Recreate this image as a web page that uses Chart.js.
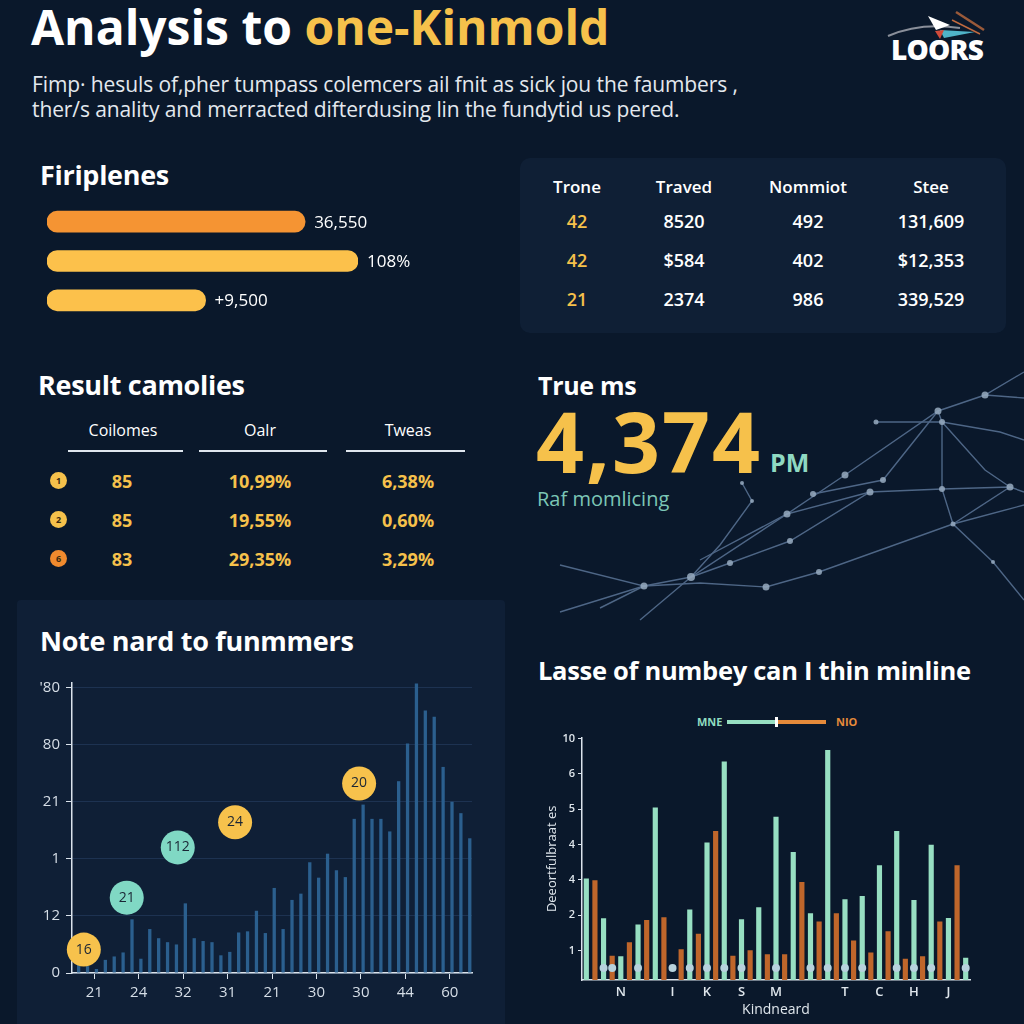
<!DOCTYPE html>
<html lang="en">
<head>
<meta charset="utf-8">
<title>Analysis to one-Kinmold</title>
<script src="https://cdn.jsdelivr.net/npm/chart.js@4.4.1/dist/chart.umd.min.js"></script>
<style>
    html, body { margin: 0; padding: 0; }
    body {
        position: relative;
        width: 1024px;
        height: 1024px;
        overflow: hidden;
        background: #0a182b;
        font-family: 'Open Sans', sans-serif;
        color: #ffffff;
    }
    .t { position: absolute; white-space: nowrap; }
    .h { font-weight: 700; font-size: 25px; line-height: 30px; letter-spacing: -0.3px; }
    .yel { color: #f6c14b; }
    .cell { position: absolute; width: 140px; margin-left: -70px; text-align: center; white-space: nowrap; }
    .th { font-size: 17px; line-height: 24px; font-weight: 600; }
    .td { font-size: 18px; line-height: 24px; font-weight: 600; }
    .rh { font-size: 16px; line-height: 22px; font-weight: 500; }
    .rd { font-size: 18px; line-height: 24px; font-weight: 700; color: #f6c14b; }
    .rule { position: absolute; height: 2px; background: #dfe6ee; top: 450px; }
    .badge {
        position: absolute; width: 17px; height: 17px; border-radius: 50%;
        font-size: 9px; line-height: 17px; text-align: center; color: #3a2a10; font-weight: 700;
    }
    canvas { position: absolute; }
</style>
</head>
<body>

<!-- background network decoration -->
<svg width="1024" height="1024" style="position:absolute;left:0;top:0;">
    <g fill="none" stroke="#5a7496" stroke-width="1.4" opacity="0.85">
        <polyline points="600,608 644,586 691,577 787,514 845,475 938,411 985,395 1024,372"/>
        <polyline points="691,577 730,563 790,541 870,492 942,489 1010,487 1024,492"/>
        <polyline points="644,586 700,583 766,587 819,572 953,524 1024,505"/>
        <polyline points="938,411 942,422 942,489 953,524 993,562 1024,600"/>
        <polyline points="876,422 942,422 1000,432 1024,440"/>
        <polyline points="813,494 883,480 938,411"/>
        <polyline points="742,483 752,501 720,545 691,577"/>
        <polyline points="942,422 985,470 1010,487"/>
        <polyline points="953,524 1010,487"/>
        <polyline points="560,565 644,586 560,612"/>
        <polyline points="691,577 640,620"/>
        <polyline points="700,560 787,514 870,492"/>
        <polyline points="985,395 1024,398"/>
    </g>
    <g fill="#97abc0" opacity="0.85">
        <circle cx="985" cy="395" r="3.5"/><circle cx="938" cy="411" r="3.5"/><circle cx="942" cy="422" r="3"/>
        <circle cx="876" cy="422" r="2.5"/><circle cx="845" cy="475" r="3.5"/><circle cx="883" cy="480" r="3"/>
        <circle cx="870" cy="492" r="3.5"/><circle cx="942" cy="489" r="3"/><circle cx="1010" cy="487" r="3.5"/>
        <circle cx="813" cy="494" r="3"/><circle cx="787" cy="514" r="3.5"/><circle cx="790" cy="541" r="3"/>
        <circle cx="953" cy="524" r="2.5"/><circle cx="730" cy="563" r="3"/><circle cx="691" cy="577" r="4"/>
        <circle cx="644" cy="586" r="3.5"/><circle cx="766" cy="587" r="3.5"/><circle cx="819" cy="572" r="3"/>
        <circle cx="742" cy="483" r="2"/><circle cx="752" cy="501" r="2"/><circle cx="993" cy="562" r="2"/>
    </g>
</svg>

<!-- header -->
<div class="t" style="left:31px;top:-1px;font-size:48px;line-height:56px;font-weight:700;">Analysis to <span class="yel">one-Kinmold</span></div>
<div class="t" style="left:32px;top:72px;font-size:21px;line-height:25px;color:#e3e8ee;letter-spacing:-0.1px;">Fimp· hesuls of,pher tumpass colemcers ail fnit as sick jou the faumbers ,<br>ther/s anality and merracted difterdusing lin the fundytid us pered.</div>

<svg width="110" height="40" style="position:absolute;left:880px;top:6px;">
    <path d="M8 30 Q40 16 80 22" stroke="#8a8f9a" stroke-width="2" fill="none"/>
    <path d="M48 10 L70 19 L56 24 Z" fill="#ffffff"/>
    <path d="M60 24 L95 26 L64 32 Z" fill="#4fb3c8"/>
    <path d="M55 25 L64 24 L60 33 Z" fill="#d04a3a"/>
    <path d="M76 6 L104 24" stroke="#9a5a3a" stroke-width="2.5"/>
    <path d="M72 14 L100 28" stroke="#c06a40" stroke-width="1.5"/>
</svg>
<div class="t" style="left:891px;top:34px;font-size:28px;line-height:30px;font-weight:800;letter-spacing:-0.8px;">LOORS</div>

<!-- Firiplenes -->
<div class="t h" style="left:40px;top:160px;font-size:27px;">Firiplenes</div>
<canvas id="fipr-chart" width="421" height="118" style="left:47px;top:202px;"></canvas>

<!-- top right table -->
<div style="position:absolute;left:520px;top:158px;width:486px;height:175px;background:#0f1f35;border-radius:10px;"></div>
<div class="cell th" style="left:577px;top:175px;">Trone</div>
<div class="cell th" style="left:684px;top:175px;">Traved</div>
<div class="cell th" style="left:808px;top:175px;">Nommiot</div>
<div class="cell th" style="left:931px;top:175px;">Stee</div>

<div class="cell td yel" style="left:577px;top:209px;">42</div>
<div class="cell td" style="left:684px;top:209px;">8520</div>
<div class="cell td" style="left:808px;top:209px;">492</div>
<div class="cell td" style="left:931px;top:209px;">131,609</div>

<div class="cell td yel" style="left:577px;top:248px;">42</div>
<div class="cell td" style="left:684px;top:248px;">$584</div>
<div class="cell td" style="left:808px;top:248px;">402</div>
<div class="cell td" style="left:931px;top:248px;">$12,353</div>

<div class="cell td yel" style="left:577px;top:287px;">21</div>
<div class="cell td" style="left:684px;top:287px;">2374</div>
<div class="cell td" style="left:808px;top:287px;">986</div>
<div class="cell td" style="left:931px;top:287px;">339,529</div>

<!-- Result camolies -->
<div class="t h" style="left:38px;top:370px;font-size:27px;">Result camolies</div>
<div class="cell rh" style="left:123px;top:419px;">Coilomes</div>
<div class="cell rh" style="left:260px;top:419px;">Oalr</div>
<div class="cell rh" style="left:408px;top:419px;">Tweas</div>
<div class="rule" style="left:68px;width:115px;"></div>
<div class="rule" style="left:199px;width:128px;"></div>
<div class="rule" style="left:346px;width:119px;"></div>

<div class="badge" style="left:50px;top:472px;background:#f6c14b;">1</div>
<div class="badge" style="left:50px;top:511px;background:#f6c14b;">2</div>
<div class="badge" style="left:50px;top:550px;background:#f08a2e;">6</div>

<div class="cell rd" style="left:122px;top:469px;">85</div>
<div class="cell rd" style="left:260px;top:469px;">10,99%</div>
<div class="cell rd" style="left:408px;top:469px;">6,38%</div>
<div class="cell rd" style="left:122px;top:508px;">85</div>
<div class="cell rd" style="left:260px;top:508px;">19,55%</div>
<div class="cell rd" style="left:408px;top:508px;">0,60%</div>
<div class="cell rd" style="left:122px;top:547px;">83</div>
<div class="cell rd" style="left:260px;top:547px;">29,35%</div>
<div class="cell rd" style="left:408px;top:547px;">3,29%</div>

<!-- True ms -->
<div class="t h" style="left:538px;top:370px;">True ms</div>
<div class="t yel" style="left:536px;top:399px;font-size:84px;line-height:84px;font-weight:700;letter-spacing:2px;">4,374</div>
<div class="t" style="left:770px;top:449px;font-size:25px;line-height:26px;font-weight:700;color:#8fd9c2;">PM</div>
<div class="t" style="left:537px;top:487px;font-size:20px;line-height:24px;color:#7cc6b6;">Raf momlicing</div>

<!-- Note nard to funmmers -->
<div style="position:absolute;left:17px;top:600px;width:488px;height:430px;background:#0f1f36;border-radius:4px;"></div>
<div class="t h" style="left:40px;top:626px;font-size:27px;">Note nard to funmmers</div>
<canvas id="note-chart" width="469" height="346" style="left:20px;top:666px;"></canvas>

<!-- Lasse of numbey -->
<div class="t h" style="left:538px;top:655px;font-size:25.5px;">Lasse of numbey can I thin minline</div>
<div class="t" style="left:697px;top:714px;font-size:11px;line-height:16px;font-weight:700;color:#8fdcc0;">MNE</div>
<div style="position:absolute;left:727px;top:720px;width:49px;height:4px;background:#97dfc2;"></div>
<div style="position:absolute;left:775px;top:717px;width:3px;height:10px;background:#ffffff;"></div>
<div style="position:absolute;left:778px;top:720px;width:48px;height:4px;background:#e68a3a;"></div>
<div class="t" style="left:836px;top:714px;font-size:11px;line-height:16px;font-weight:700;color:#e68a3a;">NIO</div>
<canvas id="kind-chart" width="440" height="296" style="left:535px;top:728px;"></canvas>

<script>
// ---- data ----
const fiprLabels = ['36,550', '108%', '+9,500'];
const fiprValues = [83, 100, 51];

const noteCategories = [
    '', '', '21', '', '', '', '', '24', '', '', '', '', '32', '', '', '',
    '', '31', '', '', '', '', '21', '', '', '', '', '30', '', '', '',
    '', '30', '', '', '', '', '44', '', '', '', '', '60', '', ''
];
const noteValues = [
    0.15, 0.12, 0.07, 0.23, 0.29, 0.36, 0.94, 0.25, 0.77, 0.61, 0.54, 0.50,
    1.22, 0.61, 0.56, 0.54, 0.31, 0.37, 0.71, 0.73, 1.09, 0.70, 1.49, 0.77,
    1.28, 1.39, 1.94, 1.67, 2.09, 1.80, 1.68, 2.70, 2.95, 2.70, 2.70, 2.48,
    3.36, 4.02, 5.07, 4.60, 4.49, 3.61, 3.00, 2.80, 2.36
];
const noteYTicks = ['0', '12', '1', '21', '80', '\'80'];
const noteBubbleLabels = ['16', '21', '112', '24', '20'];
const noteBubbleX = [0.83, 5.66, 11.4, 17.85, 31.8];
const noteBubbleY = [0.41, 1.32, 2.20, 2.64, 3.32];

const kindCategories = [
    '', '', '', '', 'N', '', '', '', '', '', 'I', '', '', '', 'K', '',
    '', '', 'S', '', '', '', 'M', '', '', '', '', '', '', '', 'T', '',
    '', '', 'C', '', '', '', 'H', '', '', '', 'J', '', ''
];
const mneValues = [3.04, 1.91, 0.83, 1.73, 5.05, null, 2.16, 4.06, 6.35, 1.88, 2.22, 4.79,
                   3.79, 2.05, 6.68, 2.45, 2.54, 3.41, 4.38, 2.43, 3.99, 1.92, 0.79];
const nioValues = [2.99, 0.85, 1.23, 1.86, 1.94, 1.03, 1.47, 4.38, 0.85, 1.00, 0.89,
                   0.89, 2.94, 1.82, 2.05, 1.28, 0.94, 1.54, 0.76, 0.83, 1.82, 3.41];
const kindYTicks = ['1', '2', '4', '4', '5', '6', '10'];
const kindMarkers = [2, 3, 6, 10, 12, 14, 16, 18, 22, 26, 28, 30, 32, 36, 38, 40, 44];
const markerLevel = 0.5;

Chart.defaults.font.family = "'Open Sans', sans-serif";
Chart.defaults.color = '#d6dee7';
Chart.defaults.animation = false;

const AXIS_WHITE = '#dbe3ec';

/**
 * Firiplenes progress bars
*/
function progressChart() {
    const endLabels = {
        id: 'endLabels',
        afterDatasetsDraw(chart) {
            const ctx = chart.ctx;
            ctx.save();
            ctx.font = "500 17px 'Open Sans'";
            ctx.fillStyle = '#ffffff';
            ctx.textBaseline = 'middle';
            chart.getDatasetMeta(0).data.forEach((bar, i) => {
                ctx.fillText(fiprLabels[i], bar.x + 9, bar.y + 1);
            });
            ctx.restore();
        }
    };

    new Chart(document.getElementById('fipr-chart'), {
        type: 'bar',
        data: {
            labels: fiprLabels,
            datasets: [{
                data: fiprValues,
                backgroundColor: ['#f59433', '#fcc14b', '#fcc14b'],
                borderRadius: 11,
                borderSkipped: false,
                barThickness: 21,
            }]
        },
        options: {
            indexAxis: 'y',
            responsive: false,
            layout: { padding: { right: 110 } },
            scales: {
                x: { display: false, min: 0, max: 100 },
                y: { display: false },
            },
            plugins: { legend: { display: false }, tooltip: { enabled: false } },
        },
        plugins: [endLabels],
    });
}

/**
 * Note nard to funmmers - histogram with bubbles
*/
function noteChart() {
    const bubbleText = {
        id: 'bubbleText',
        afterDatasetsDraw(chart) {
            const ctx = chart.ctx;
            ctx.save();
            ctx.font = "14px 'Open Sans'";
            ctx.fillStyle = '#1a2535';
            ctx.textAlign = 'center';
            ctx.textBaseline = 'middle';
            chart.getDatasetMeta(0).data.forEach((pt, i) => {
                ctx.fillText(noteBubbleLabels[i], pt.x, pt.y);
            });
            ctx.restore();
        }
    };

    new Chart(document.getElementById('note-chart'), {
        data: {
            labels: noteCategories,
            datasets: [
                {
                    type: 'scatter',
                    xAxisID: 'xb',
                    order: 1,
                    clip: false,
                    data: noteBubbleX.map((x, i) => ({ x: x, y: noteBubbleY[i] })),
                    pointRadius: 17,
                    pointBorderWidth: 0,
                    pointBackgroundColor: ['#f7c24c', '#80d8c4', '#80d8c4', '#f7c24c', '#f7c24c'],
                },
                {
                    type: 'bar',
                    order: 2,
                    data: noteValues,
                    backgroundColor: '#2b5f8e',
                    barPercentage: 0.74,
                    categoryPercentage: 1,
                }
            ]
        },
        options: {
            responsive: false,
            layout: { padding: { top: 5, right: 3 } },
            scales: {
                x: {
                    offset: true,
                    afterBuildTicks: (axis) => {
                        axis.ticks = axis.ticks.filter(t => noteCategories[t.value] !== '');
                    },
                    afterFit: (scale) => { scale.height = 39; },
                    ticks: { autoSkip: false, maxRotation: 0, padding: 5, font: { size: 15 }, color: '#d6dee7' },
                    grid: { offset: false, drawOnChartArea: false, tickColor: AXIS_WHITE, tickLength: 6 },
                    border: { color: AXIS_WHITE, width: 1.5 },
                },
                xb: { type: 'linear', axis: 'x', display: false, min: -0.5, max: 44.5 },
                y: {
                    min: 0,
                    max: 5.08,
                    afterBuildTicks: (axis) => {
                        axis.ticks = noteYTicks.map((_, i) => ({ value: i }));
                    },
                    afterFit: (scale) => { scale.width = 52; },
                    ticks: {
                        callback: (v) => noteYTicks[v],
                        padding: 6,
                        font: { size: 15 },
                        color: '#d6dee7',
                    },
                    grid: { color: '#1d3251', tickColor: AXIS_WHITE, tickLength: 6 },
                    border: { color: AXIS_WHITE, width: 1.5 },
                }
            },
            plugins: { legend: { display: false }, tooltip: { enabled: false } },
        },
        plugins: [bubbleText],
    });
}

/**
 * Lasse of numbey - paired bars
*/
function kindChart() {
    const mneData = kindCategories.map((_, i) => i % 2 === 0 ? mneValues[i / 2] : null);
    const nioData = kindCategories.map((_, i) => i % 2 === 1 ? nioValues[(i - 1) / 2] : null);
    const markerData = kindCategories.map((_, i) => kindMarkers.includes(i) ? markerLevel : null);

    new Chart(document.getElementById('kind-chart'), {
        data: {
            labels: kindCategories,
            datasets: [
                {
                    type: 'line',
                    label: 'marker',
                    order: 0,
                    data: markerData,
                    showLine: false,
                    pointRadius: 4,
                    pointBorderWidth: 0,
                    pointBackgroundColor: '#b7d2dd',
                },
                {
                    type: 'bar',
                    label: 'MNE',
                    order: 1,
                    data: mneData,
                    backgroundColor: '#97dfc2',
                    grouped: false,
                    barPercentage: 0.6,
                    categoryPercentage: 1,
                },
                {
                    type: 'bar',
                    label: 'NIO',
                    order: 1,
                    data: nioData,
                    backgroundColor: '#bf662b',
                    grouped: false,
                    barPercentage: 0.6,
                    categoryPercentage: 1,
                }
            ]
        },
        options: {
            responsive: false,
            layout: { padding: { top: 7, right: 5 } },
            scales: {
                x: {
                    afterBuildTicks: (axis) => {
                        axis.ticks = axis.ticks.filter(t => kindCategories[t.value] !== '');
                    },
                    afterFit: (scale) => { scale.height = 44; },
                    ticks: { autoSkip: false, maxRotation: 0, padding: 4, font: { size: 13, weight: 600 }, color: '#dfe6ec' },
                    grid: { drawOnChartArea: false, drawTicks: false },
                    border: { color: AXIS_WHITE, width: 1.5 },
                    title: {
                        display: true,
                        text: 'Kindneard',
                        color: '#dfe6ec',
                        font: { size: 14 },
                        padding: { top: 2, bottom: 6 },
                    },
                },
                y: {
                    min: 0.16,
                    max: 7.03,
                    afterBuildTicks: (axis) => {
                        axis.ticks = kindYTicks.map((_, i) => ({ value: i + 1 }));
                    },
                    afterFit: (scale) => { scale.width = 47; },
                    ticks: {
                        callback: (v) => kindYTicks[v - 1],
                        padding: 3,
                        font: { size: 11, weight: 600 },
                        color: '#dfe6ec',
                    },
                    grid: { drawOnChartArea: false, tickColor: AXIS_WHITE, tickLength: 4 },
                    border: { color: AXIS_WHITE, width: 1.5 },
                    title: {
                        display: true,
                        text: 'Deeortfulbraat es',
                        color: '#dfe6ec',
                        font: { size: 13 },
                        padding: { top: 9, bottom: 0 },
                    },
                }
            },
            plugins: { legend: { display: false }, tooltip: { enabled: false } },
        },
    });
}

progressChart();
noteChart();
kindChart();
</script>
</body>
</html>
